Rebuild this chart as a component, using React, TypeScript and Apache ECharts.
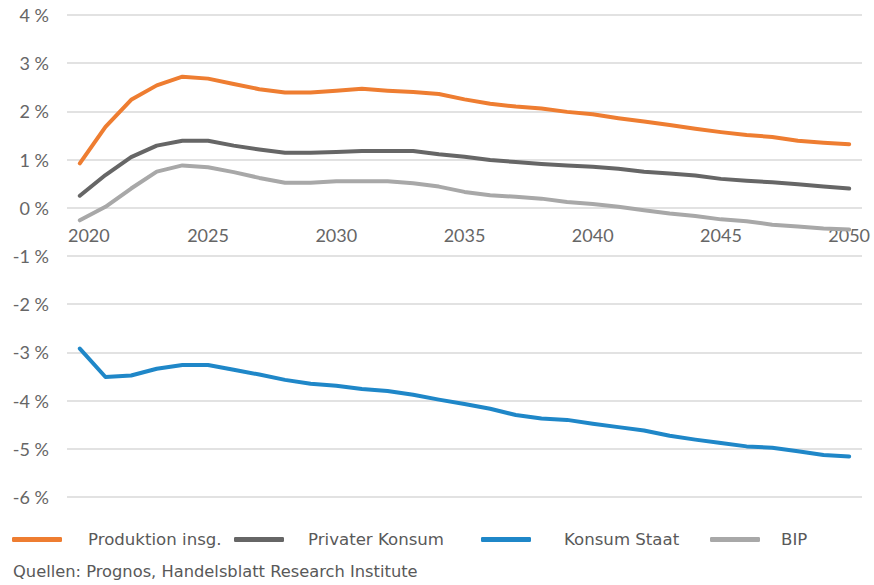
import React, { useEffect, useRef } from "react";
import * as echarts from "echarts";

const years: string[] = [];
for (let y = 2020; y <= 2050; y++) years.push(String(y));

const produktion = [0.92, 1.68, 2.24, 2.54, 2.72, 2.68, 2.57, 2.46, 2.39, 2.39, 2.43, 2.47, 2.43, 2.40, 2.36, 2.25, 2.16, 2.10, 2.06, 1.99, 1.94, 1.86, 1.79, 1.72, 1.64, 1.57, 1.51, 1.47, 1.39, 1.35, 1.32];
const privaterKonsum = [0.25, 0.68, 1.05, 1.29, 1.39, 1.39, 1.29, 1.21, 1.14, 1.14, 1.16, 1.18, 1.18, 1.18, 1.11, 1.06, 0.99, 0.95, 0.91, 0.88, 0.85, 0.81, 0.75, 0.71, 0.67, 0.60, 0.56, 0.53, 0.49, 0.44, 0.40];
const konsumStaat = [-2.92, -3.51, -3.48, -3.34, -3.26, -3.26, -3.36, -3.46, -3.57, -3.65, -3.69, -3.76, -3.80, -3.88, -3.98, -4.07, -4.17, -4.30, -4.37, -4.40, -4.48, -4.55, -4.62, -4.73, -4.81, -4.88, -4.95, -4.98, -5.05, -5.13, -5.16];
const bip = [-0.26, 0.02, 0.40, 0.75, 0.88, 0.84, 0.74, 0.62, 0.52, 0.52, 0.55, 0.55, 0.55, 0.51, 0.44, 0.33, 0.26, 0.23, 0.19, 0.12, 0.08, 0.02, -0.05, -0.12, -0.17, -0.24, -0.28, -0.35, -0.39, -0.43, -0.45];

const seriesNames = ["Produktion insg.", "Privater Konsum", "Konsum Staat", "BIP"];
const colors = ["#EE7D31", "#666666", "#1F87C8", "#A8A8A8"];
const sourceText = "Quellen: Prognos, Handelsblatt Research Institute";

const AXIS_FONT = "Lato, 'Noto Sans', sans-serif";
const TEXT_FONT = "'DejaVu Sans', 'Noto Sans', sans-serif";

const Y_MIN = -6;
const Y_MAX = 4;

export default function App() {
  const ref = useRef<HTMLDivElement>(null);
  useEffect(() => {
    if (!ref.current) return;
    const chart = echarts.init(ref.current, null, { renderer: "svg" });
    const dataSets = [produktion, privaterKonsum, konsumStaat, bip];
    const legendIconLeft = [12, 234, 481, 710];
    const legendTextLeft = [88, 308, 564, 781];
    const gridTop = 15;
    const gridBottom = 88;
    const plotH = 585 - gridTop - gridBottom;
    // move the category axis (labels) up to the zero line
    const zeroOffset = -plotH * (0 - Y_MIN) / (Y_MAX - Y_MIN);
    chart.setOption({
      animation: false,
      textStyle: { fontFamily: AXIS_FONT },
      grid: { left: 67, right: 12, top: gridTop, bottom: gridBottom, containLabel: false },
      title: {
        text: sourceText,
        left: 13,
        top: 563,
        padding: 0,
        textStyle: { fontFamily: TEXT_FONT, fontSize: 16.3, fontWeight: "normal", color: "#595959" },
      },
      legend: seriesNames.map((n, i) => ({
        data: [n],
        left: legendIconLeft[i],
        top: 531,
        padding: 0,
        itemWidth: 50,
        itemHeight: 5,
        icon: "roundRect",
        textStyle: {
          fontFamily: TEXT_FONT,
          fontSize: 16.6,
          color: "#595959",
          padding: [0, 0, 0, legendTextLeft[i] - legendIconLeft[i] - 55],
        },
      })),
      xAxis: {
        type: "category",
        data: years,
        boundaryGap: true,
        position: "bottom",
        offset: zeroOffset,
        axisLine: { show: false, onZero: false },
        axisTick: { show: false },
        splitLine: { show: false },
        axisLabel: {
          interval: 4,
          margin: 18,
          fontSize: 18,
          color: "#666666",
          fontFamily: AXIS_FONT,
          formatter: (value: string, index: number) => (index === 0 ? `{first|${value}}` : value),
          rich: {
            first: {
              fontSize: 18,
              color: "#666666",
              fontFamily: AXIS_FONT,
              padding: [0, 0, 0, 18],
            },
          },
        },
      },
      yAxis: {
        type: "value",
        min: Y_MIN,
        max: Y_MAX,
        interval: 1,
        axisLine: { show: false },
        axisTick: { show: false },
        splitLine: { lineStyle: { color: "#D9D9D9", width: 1.5 } },
        axisLabel: {
          formatter: "{value} %",
          margin: 18,
          fontSize: 18,
          color: "#666666",
          fontFamily: AXIS_FONT,
        },
      },
      series: seriesNames.map((n, i) => ({
        name: n,
        type: "line",
        data: dataSets[i],
        symbol: "none",
        lineStyle: { color: colors[i], width: 4, cap: "round", join: "round" },
        itemStyle: { color: colors[i] },
      })),
    });
    return () => chart.dispose();
  }, []);
  return (
    <div
      ref={ref}
      style={{ position: "fixed", left: 0, top: 0, width: 874, height: 585, background: "#fff" }}
    />
  );
}
